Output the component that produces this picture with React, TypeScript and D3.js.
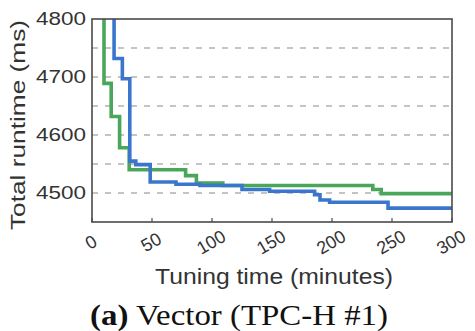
import React, { useEffect, useRef } from 'react';
import * as d3 from 'd3';

// step curves: [minutes, runtime ms]
const blueSeries: [number, number][] = [
  [18.4, 4820], [18.4, 4732], [25.3, 4732], [25.3, 4697], [31.5, 4697], [31.5, 4555],
  [36.5, 4555], [36.5, 4549], [48.5, 4549], [48.5, 4519], [70, 4519], [70, 4515],
  [90, 4515], [90, 4513], [125, 4513], [125, 4506], [148, 4506], [148, 4503],
  [185.5, 4503], [185.5, 4497], [190, 4497], [190, 4488], [198, 4488], [198, 4484],
  [246.7, 4484], [246.7, 4474], [300, 4474],
];
const greenSeries: [number, number][] = [
  [10, 4820], [10, 4689], [16, 4689], [16, 4632], [23, 4632], [23, 4578],
  [31, 4578], [31, 4540], [78, 4540], [78, 4530], [87, 4530], [87, 4517],
  [109, 4517], [109, 4513], [234, 4513], [234, 4506], [241, 4506], [241, 4499], [300, 4499],
];

const xTicks = [0, 50, 100, 150, 200, 250, 300];
const yTicks = [4500, 4600, 4700, 4800];
const gridValues = [4500, 4550, 4600, 4650, 4700, 4750];

const App: React.FC = () => {
  const svgRef = useRef<SVGSVGElement>(null);

  useEffect(() => {
    if (!svgRef.current) return;
    const svg = d3.select(svgRef.current);
    svg.selectAll('*').remove();

    const left = 92, right = 452, top = 19, bottom = 222;
    const x = d3.scaleLinear().domain([0, 300]).range([left, right]);
    const y = d3.scaleLinear().domain([4450, 4800]).range([bottom, top]);
    const sans = 'Liberation Sans, Arial, sans-serif';

    const clip = svg.append('clipPath').attr('id', 'plotClip');
    clip.append('rect').attr('x', left).attr('y', top).attr('width', right - left).attr('height', bottom - top);

    // dashed grid
    svg.append('g').selectAll('line').data(gridValues).enter().append('line')
      .attr('x1', left).attr('x2', right)
      .attr('y1', d => y(d)).attr('y2', d => y(d))
      .attr('stroke', '#8a8a8a').attr('stroke-width', 1.2)
      .attr('stroke-dasharray', '6,7');

    const line = d3.line<[number, number]>().x(d => x(d[0])).y(d => y(d[1]));

    const lines = svg.append('g').attr('clip-path', 'url(#plotClip)');
    lines.append('path').datum(greenSeries)
      .attr('fill', 'none').attr('stroke', '#4aa65a').attr('stroke-width', 3.6)
      .attr('d', line);
    lines.append('path').datum(blueSeries)
      .attr('fill', 'none').attr('stroke', '#3a77cc').attr('stroke-width', 3.6)
      .attr('d', line);

    // frame
    svg.append('rect')
      .attr('x', left).attr('y', top).attr('width', right - left).attr('height', bottom - top)
      .attr('fill', 'none').attr('stroke', '#4a4a4a').attr('stroke-width', 1.6);

    // bottom ticks
    svg.append('g').selectAll('line').data(xTicks).enter().append('line')
      .attr('x1', d => x(d)).attr('x2', d => x(d))
      .attr('y1', bottom).attr('y2', bottom - 4)
      .attr('stroke', '#4a4a4a').attr('stroke-width', 1.2);

    // y tick labels
    svg.append('g').selectAll('text').data(yTicks).enter().append('text')
      .attr('x', left - 6).attr('y', d => y(d))
      .attr('dy', '0.35em')
      .attr('text-anchor', 'end')
      .attr('font-family', sans).attr('font-size', 18.5).attr('fill', '#333')
      .attr('textLength', 50).attr('lengthAdjust', 'spacingAndGlyphs')
      .text(d => d);

    // x tick labels, rotated
    svg.append('g').selectAll('text').data(xTicks).enter().append('text')
      .attr('transform', d => `translate(${x(d) - 1},${bottom + 20}) rotate(-30)`)
      .attr('text-anchor', 'middle')
      .attr('dy', '0.35em')
      .attr('font-family', sans).attr('font-size', 18).attr('fill', '#333')
      .text(d => d);

    svg.append('text')
      .attr('transform', `translate(25,125) rotate(-90)`)
      .attr('text-anchor', 'middle')
      .attr('font-family', sans).attr('font-size', 21).attr('fill', '#333')
      .attr('textLength', 210).attr('lengthAdjust', 'spacingAndGlyphs')
      .text('Total runtime (ms)');

    svg.append('text')
      .attr('x', 274).attr('y', 284)
      .attr('text-anchor', 'middle')
      .attr('font-family', sans).attr('font-size', 22).attr('fill', '#333')
      .attr('textLength', 238).attr('lengthAdjust', 'spacingAndGlyphs')
      .text('Tuning time (minutes)');

    const cap = svg.append('text')
      .attr('x', 239).attr('y', 325)
      .attr('text-anchor', 'middle')
      .attr('font-family', 'Liberation Serif, Times New Roman, serif').attr('font-size', 29).attr('fill', '#111')
      .attr('textLength', 298).attr('lengthAdjust', 'spacingAndGlyphs');
    cap.append('tspan').attr('font-weight', 'bold').text('(a)');
    cap.append('tspan').text(' Vector (TPC-H #1)');
  }, []);

  return (
    <svg
      ref={svgRef}
      width={475}
      height={331}
      style={{ position: 'absolute', left: 0, top: 0, display: 'block', background: '#fff' }}
    />
  );
};

export default App;
